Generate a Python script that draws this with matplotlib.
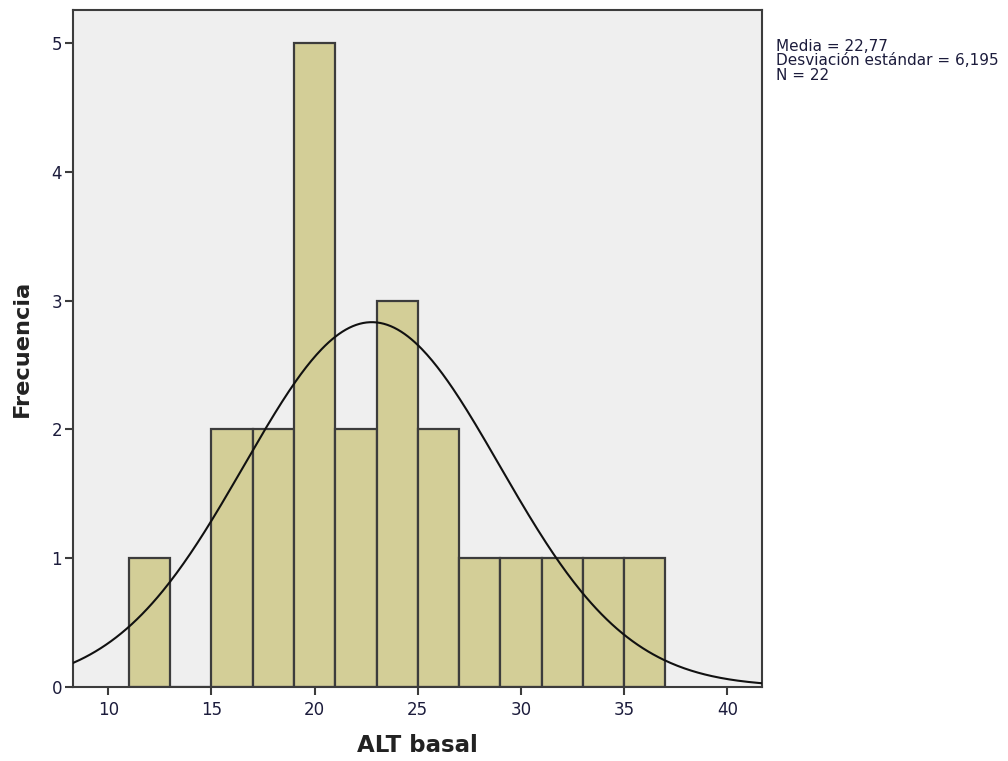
import numpy as np
import matplotlib
matplotlib.use("Agg")
import matplotlib.pyplot as plt

bin_edges = [11, 13, 15, 17, 19, 21, 23, 25, 27, 29, 31, 33, 35, 37]
counts = [1, 0, 2, 2, 5, 2, 3, 2, 1, 1, 1, 1, 1]
mean = 22.77
std = 6.195
n = 22
xticks = [10, 15, 20, 25, 30, 35, 40]
yticks = [0, 1, 2, 3, 4, 5]

fig = plt.figure(figsize=(10.08, 7.61), dpi=100)
ax = fig.add_axes([73/1008, 1 - 686.7/761, (762-73)/1008, (686.7-10)/761])
ax.set_facecolor("#efefef")

edges = np.array(bin_edges, dtype=float)
ax.bar(edges[:-1], counts, width=np.diff(edges), align="edge",
       color="#d3ce97", edgecolor="#3c3c3c", linewidth=1.6, zorder=2)

xlo, xhi = 8.29, 41.68
xs = np.linspace(xlo, xhi, 400)
bw = 2.0
ys = n * bw / (std * np.sqrt(2 * np.pi)) * np.exp(-0.5 * ((xs - mean) / std) ** 2)
ax.plot(xs, ys, color="#111111", linewidth=1.5, zorder=3)

ax.set_xlim(xlo, xhi)
ax.set_ylim(0, 5.26)
ax.set_xticks(xticks)
ax.set_yticks(yticks)
tc = "#1c1c3c"
ax.tick_params(axis="both", direction="out", length=6, width=1.5, color="#3c3c3c",
               labelsize=12, labelcolor=tc)
ax.tick_params(axis="x", pad=4)
ax.tick_params(axis="y", pad=2)
for s in ax.spines.values():
    s.set_color("#3c3c3c")
    s.set_linewidth(1.5)

ax.set_xlabel("ALT basal", fontsize=16.5, fontweight="bold", color="#222222", labelpad=11)
ax.set_ylabel("Frecuencia", fontsize=16.2, fontweight="bold", color="#222222", labelpad=14)

fig.text(776/1008, 1 - 39/761,
         "Media = 22,77\nDesviación estándar = 6,195\nN = 22",
         fontsize=11, color="#1c1c3c", va="top", ha="left", linespacing=0.95)

fig.savefig("out.png", dpi=100)
